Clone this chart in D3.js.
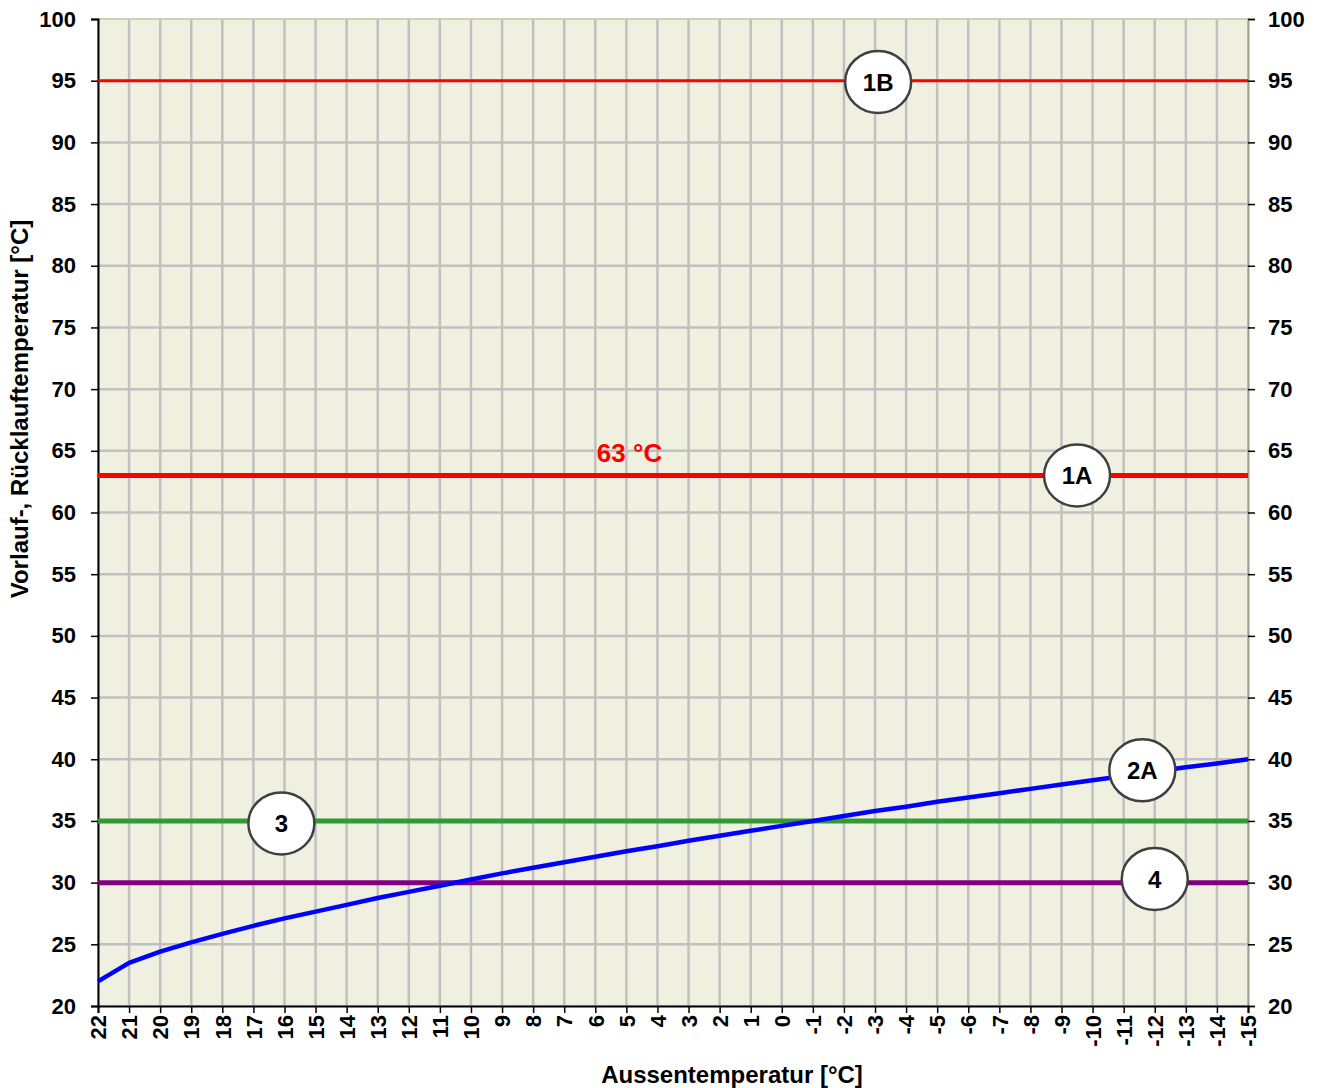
<!DOCTYPE html>
<html lang="de">
<head>
<meta charset="UTF-8">
<title>Vorlauf-/Rücklauftemperatur</title>
<script src="https://d3js.org/d3.v7.min.js"></script>
<style>
    body { margin: 0; background: #ffffff; font-family: Arial, "Liberation Sans", sans-serif; }
    .tick text { font-weight: bold; font-family: Arial, "Liberation Sans", sans-serif; fill: #000; }
</style>
</head>
<body>
<div id="chart"></div>
<script>
    // Aussentemperatur (x categories)
    const outsideTemps = d3.range(22, -16, -1);
    // Blue curve (2A) values per outside temperature
    const curve2A = [22.0, 23.5, 24.4, 25.15, 25.85, 26.5, 27.1, 27.65, 28.2, 28.75, 29.25, 29.75, 30.25,
                     30.75, 31.2, 31.65, 32.1, 32.55, 32.95, 33.4, 33.8, 34.2, 34.6, 35.0, 35.4, 35.8,
                     36.15, 36.55, 36.9, 37.25, 37.6, 37.95, 38.3, 38.65, 39.0, 39.35, 39.65, 40.0];
    // Constant lines
    const constLines = [
        { name: "1B", value: 95, color: "#ff0000", width: 3 },
        { name: "1A", value: 63, color: "#ff0000", width: 5 },
        { name: "3",  value: 35, color: "#339933", width: 5 },
        { name: "4",  value: 30, color: "#800080", width: 5 }
    ];
    // Marker labels (position in data units)
    const markers = [
        { label: "1B", x: -3.1, y: 94.9 },
        { label: "1A", x: -9.5, y: 63 },
        { label: "2A", x: -11.6, y: 39.1 },
        { label: "3",  x: 16.1, y: 34.8 },
        { label: "4",  x: -12.0, y: 30.3 }
    ];
    const yTicks = d3.range(20, 101, 5);

    const margin = { top: 19, right: 77, bottom: 82, left: 98 };
    const W = 1325, H = 1088;
    const width = W - margin.left - margin.right;
    const height = H - margin.top - margin.bottom;

    const svg = d3.select("#chart").append("svg")
        .attr("width", W).attr("height", H);
    const g = svg.append("g").attr("transform", `translate(${margin.left},${margin.top})`);

    const x = d3.scaleLinear().domain([22, -15]).range([0, width]);
    const y = d3.scaleLinear().domain([20, 100]).range([height, 0]);

    // plot background
    g.append("rect").attr("width", width).attr("height", height)
        .attr("fill", "#f0f0e1").attr("stroke", "#d0d0b8").attr("stroke-width", 2);

    // grid
    g.selectAll(".vgrid").data(outsideTemps.slice(1, -1)).enter().append("line")
        .attr("x1", d => x(d)).attr("x2", d => x(d))
        .attr("y1", 0).attr("y2", height)
        .attr("stroke", "#c0c0c0").attr("stroke-width", 2.5);
    g.selectAll(".hgrid").data(yTicks.slice(1, -1)).enter().append("line")
        .attr("x1", 0).attr("x2", width)
        .attr("y1", d => y(d)).attr("y2", d => y(d))
        .attr("stroke", "#c0c0c0").attr("stroke-width", 2.5);

    // axes
    const yLeft = g.append("g").call(d3.axisLeft(y).tickValues(yTicks).tickSize(7).tickPadding(15));
    const yRight = g.append("g").attr("transform", `translate(${width},0)`)
        .call(d3.axisRight(y).tickValues(yTicks).tickSize(7).tickPadding(13));
    const xAxis = g.append("g").attr("transform", `translate(0,${height})`)
        .call(d3.axisBottom(x).tickValues(outsideTemps).tickSize(7).tickFormat(d => String(d)));
    [yLeft, yRight, xAxis].forEach(a => {
        a.select(".domain").attr("stroke", "#000").attr("stroke-width", 2);
        a.selectAll(".tick line").attr("stroke", "#000").attr("stroke-width", 1.5);
    });
    yRight.select(".domain").attr("stroke", "#a0a090");
    yLeft.selectAll(".tick text").style("font-size", "22px");
    yRight.selectAll(".tick text").style("font-size", "22px").attr("text-anchor", "start");
    xAxis.selectAll(".tick text")
        .style("font-size", "22px")
        .attr("transform", "rotate(-90)")
        .attr("text-anchor", "end")
        .attr("x", -9).attr("y", 0).attr("dy", "0.35em");

    // constant lines
    g.selectAll(".const").data(constLines).enter().append("line")
        .attr("x1", 0).attr("x2", width)
        .attr("y1", d => y(d.value)).attr("y2", d => y(d.value))
        .attr("stroke", d => d.color).attr("stroke-width", d => d.width);

    // 2A curve
    const line = d3.line().x((d, i) => x(outsideTemps[i])).y(d => y(d));
    g.append("path").datum(curve2A)
        .attr("d", line).attr("fill", "none")
        .attr("stroke", "#0000ff").attr("stroke-width", 4.5)
        .attr("stroke-linejoin", "round");

    // 63 °C label
    g.append("text")
        .attr("x", x(5.95)).attr("y", y(63) - 13)
        .attr("fill", "#ff0000").style("font-size", "26px").style("font-weight", "bold")
        .text("63 °C");

    // markers
    const mk = g.selectAll(".marker").data(markers).enter().append("g")
        .attr("transform", d => `translate(${x(d.x)},${y(d.y)})`);
    mk.append("ellipse").attr("rx", 33).attr("ry", 31)
        .attr("fill", "#ffffff").attr("stroke", "#404040").attr("stroke-width", 2.5);
    mk.append("text").attr("text-anchor", "middle").attr("dy", "0.36em")
        .style("font-size", "24px").style("font-weight", "bold")
        .text(d => d.label);

    // axis titles
    svg.append("text")
        .attr("transform", `translate(28,409) rotate(-90)`)
        .attr("text-anchor", "middle")
        .style("font-size", "24px").style("font-weight", "bold")
        .text("Vorlauf-, Rücklauftemperatur [°C]");
    svg.append("text")
        .attr("x", 732).attr("y", 1083)
        .attr("text-anchor", "middle")
        .style("font-size", "24px").style("font-weight", "bold")
        .text("Aussentemperatur [°C]");
</script>
</body>
</html>
